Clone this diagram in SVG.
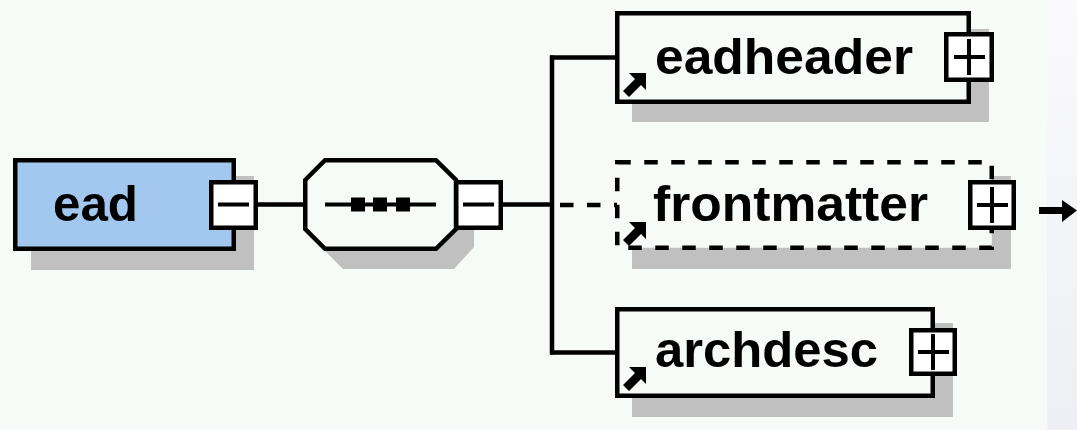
<svg xmlns="http://www.w3.org/2000/svg" width="1077" height="430" viewBox="0 0 1077 430">
  <defs>
    <linearGradient id="edge" x1="0" y1="0" x2="0" y2="1">
      <stop offset="0" stop-color="#FAFAFC"/>
      <stop offset="1" stop-color="#EDEFF4"/>
    </linearGradient>
    <style>
      .bg { fill: #F6FBF7; }
      .shadow { fill: #C0C0C0; stroke: none; }
      .box { fill: #F6FBF7; stroke: #000; stroke-width: 4.5; }
      .root { fill: #A3C8F0; stroke: #000; stroke-width: 4.5; }
      .opt { fill: #F6FBF7; stroke: #000; stroke-width: 4.5; stroke-dasharray: 13.5 13.5; }
      .btn { fill: #FFFFFF; stroke: #000; stroke-width: 4.5; }
      .sign { stroke: #000; stroke-width: 4; fill: none; }
      .wire { stroke: #000; stroke-width: 4.5; fill: none; }
      .dash { stroke: #000; stroke-width: 4.5; fill: none; stroke-dasharray: 13.5 13.5; }
      .lbl { font-family: "Liberation Sans", Arial, sans-serif; font-weight: bold; font-size: 50px; fill: #000; }
      .icon { fill: #000; }
    </style>
  </defs>

  <rect class="bg" x="0" y="0" width="1077" height="430"/>
  <rect x="1047" y="0" width="30" height="430" fill="url(#edge)"/>

  <g id="connectors">
    <line class="wire" x1="258" y1="204.5" x2="305" y2="204.5"/>
    <line class="wire" x1="503" y1="204.5" x2="552" y2="204.5"/>
    <line class="wire" x1="552" y1="55.5" x2="552" y2="354.5"/>
    <line class="wire" x1="550" y1="57.5" x2="617" y2="57.5"/>
    <line class="dash" x1="560" y1="205" x2="617" y2="205"/>
    <line class="wire" x1="550" y1="352.5" x2="617" y2="352.5"/>
    <line x1="1039" y1="210.5" x2="1064" y2="210.5" stroke="#000" stroke-width="7"/>
    <polygon points="1062,200 1077,210.5 1062,222" fill="#000"/>
  </g>

  <g id="node-ead">
    <rect class="shadow" x="31" y="176" width="223" height="94"/>
    <rect class="root" x="15.25" y="160.25" width="218.5" height="88.5"/>
    <text class="lbl" x="53" y="221" textLength="85" lengthAdjust="spacingAndGlyphs">ead</text>
    <rect class="btn" x="211.25" y="182.25" width="44.5" height="45.5"/>
    <line class="sign" x1="218" y1="204.5" x2="249" y2="204.5"/>
  </g>

  <g id="node-sequence">
    <polygon class="shadow" points="321,196 343,176 454,176 474,196 474,247 454,269 343,269 321,247"/>
    <polygon class="box" points="305.25,180 325,160.25 436,160.25 456,180 456,229 436,248.75 325,248.75 305.25,229"/>
    <line class="sign" x1="325" y1="204.5" x2="436" y2="204.5"/>
    <rect class="icon" x="351" y="197.5" width="14" height="14"/>
    <rect class="icon" x="373" y="197.5" width="14" height="14"/>
    <rect class="icon" x="396" y="197.5" width="14" height="14"/>
    <rect class="btn" x="456.25" y="182.25" width="44.5" height="45.5"/>
    <line class="sign" x1="463" y1="204.5" x2="494" y2="204.5"/>
  </g>

  <g id="node-eadheader">
    <rect class="shadow" x="632" y="29" width="357" height="93"/>
    <rect class="box" x="617.25" y="13.25" width="351.5" height="88.5"/>
    <text class="lbl" x="655" y="74" textLength="258" lengthAdjust="spacingAndGlyphs">eadheader</text>
    <polygon class="icon" points="629,73 646,73 646,90 641,85 629,97 623,91 635,79"/>
    <rect class="btn" x="946.25" y="34.25" width="45.5" height="45.5"/>
    <line class="sign" x1="954" y1="57" x2="985" y2="57"/>
    <line class="sign" x1="969" y1="39" x2="969" y2="75"/>
  </g>

  <g id="node-frontmatter">
    <rect class="shadow" x="632" y="176" width="379" height="93"/>
    <rect class="opt" x="617.25" y="162.25" width="374.5" height="85.5"/>
    <text class="lbl" x="653" y="221" textLength="275" lengthAdjust="spacingAndGlyphs">frontmatter</text>
    <polygon class="icon" points="629,222 646,222 646,239 641,234 629,246 623,240 635,228"/>
    <rect class="btn" x="970.25" y="182.25" width="43.5" height="45.5"/>
    <line class="sign" x1="977" y1="205" x2="1008" y2="205"/>
    <line class="sign" x1="992" y1="187" x2="992" y2="223"/>
  </g>

  <g id="node-archdesc">
    <rect class="shadow" x="632" y="323" width="321" height="94"/>
    <rect class="box" x="617.25" y="309.25" width="315.5" height="86.5"/>
    <text class="lbl" x="655" y="367" textLength="223" lengthAdjust="spacingAndGlyphs">archdesc</text>
    <polygon class="icon" points="629,367 646,367 646,384 641,379 629,391 623,385 635,373"/>
    <rect class="btn" x="911.25" y="330.25" width="43.5" height="43.5"/>
    <line class="sign" x1="918" y1="352" x2="949" y2="352"/>
    <line class="sign" x1="933" y1="334" x2="933" y2="370"/>
  </g>
</svg>
